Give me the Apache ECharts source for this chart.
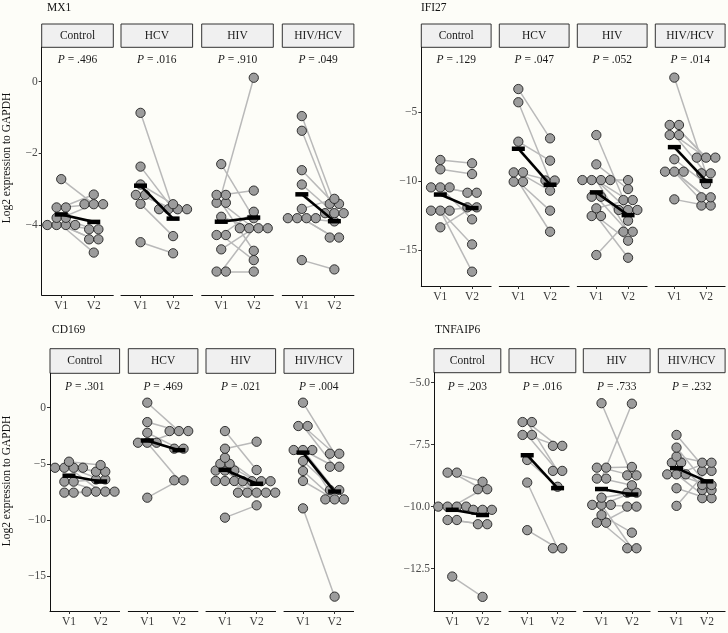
<!DOCTYPE html>
<html><head><meta charset="utf-8">
<script src="https://cdn.jsdelivr.net/npm/echarts@6/dist/echarts.min.js"></script>
<style>html,body{margin:0;padding:0;background:#fdfdf8;} #c{width:728px;height:633px;}</style>
</head><body><div id="c"></div>
<script>
// ---------- data ----------
const groups = ['Control', 'HCV', 'HIV', 'HIV/HCV'];
const visits = ['V1', 'V2'];
const genes = ['MX1', 'IFI27', 'CD169', 'TNFAIP6'];

// MX1
const mx1ControlV1 = [-2.72, -3.51, -3.51, -3.80, -3.80, -4.00, -4.00, -4.00, -4.00];
const mx1ControlV2 = [-3.42, -3.15, -3.42, -3.42, -4.12, -4.40, -4.12, -4.77, -4.40];
const mx1HcvV1 = [-0.87, -2.37, -2.87, -3.16, -3.16, -3.41, -4.48];
const mx1HcvV2 = [-3.56, -3.56, -3.42, -3.56, -3.56, -4.31, -4.79];
const mx1HivV1 = [-2.30, -3.16, -3.16, -3.38, -3.38, -3.77, -4.28, -4.28, -4.68, -5.30, -5.30];
const mx1HivV2 = [-3.81, 0.11, -3.04, -4.09, -4.72, -4.09, -4.98, -3.63, -4.09, -5.30, -4.09];
const mx1CoV1 = [-0.96, -1.37, -2.47, -2.87, -3.55, -3.81, -3.81, -3.81, -3.81, -4.98];
const mx1CoV2 = [-3.41, -3.67, -3.41, -3.67, -3.27, -3.67, -3.90, -4.35, -4.35, -5.24];
// IFI27
const ifiControlV1 = [-8.46, -9.14, -10.45, -10.45, -10.45, -12.14, -12.14, -12.14, -13.35];
const ifiControlV2 = [-8.70, -9.48, -10.84, -12.77, -10.84, -11.90, -14.59, -16.57, -11.90];
const ifiHcvV1 = [-3.31, -4.27, -7.13, -9.36, -9.36, -10.04, -10.04];
const ifiHcvV2 = [-6.89, -9.95, -8.51, -9.95, -10.69, -12.14, -13.67];
const ifiHivV1 = [-6.65, -8.78, -9.92, -9.92, -9.92, -9.92, -11.13, -11.13, -11.97, -12.53, -12.53, -15.36];
const ifiHivV2 = [-12.09, -10.57, -9.92, -11.37, -12.09, -13.67, -12.09, -13.67, -11.37, -14.32, -15.56, -12.87];
const ifiCoV1 = [-2.48, -5.92, -5.92, -6.65, -6.65, -8.41, -9.31, -9.31, -9.31, -11.32];
const ifiCoV2 = [-9.43, -8.29, -8.29, -8.29, -9.43, -10.20, -11.17, -11.77, -11.17, -11.77];
// CD169
const cdControlV1 = [-4.81, -5.35, -5.35, -5.35, -5.35, -6.59, -6.59, -7.57, -7.57];
const cdControlV2 = [-5.11, -5.70, -5.70, -6.39, -7.48, -6.39, -7.48, -7.48, -7.48];
const cdHcvV1 = [0.45, -1.28, -2.23, -3.12, -3.12, -3.12, -8.02];
const cdHcvV2 = [-2.08, -2.08, -3.65, -2.08, -3.65, -6.47, -6.47];
const cdHivV1 = [-2.08, -3.65, -4.46, -5.00, -5.00, -5.60, -5.60, -5.60, -6.53, -6.53, -6.53, -9.80];
const cdHivV2 = [-5.55, -3.03, -6.55, -6.55, -7.57, -6.55, -7.57, -7.57, -6.55, -7.57, -7.57, -8.70];
const cdCoV1 = [0.45, -1.63, -1.63, -3.77, -3.77, -3.77, -4.75, -5.64, -6.53, -8.97];
const cdCoV2 = [-4.10, -4.10, -5.26, -5.26, -7.34, -8.17, -7.34, -8.17, -8.17, -16.84];
// TNFAIP6
const tnControlV1 = [-8.63, -8.63, -10.00, -10.00, -10.00, -10.00, -10.54, -10.54, -12.82];
const tnControlV2 = [-9.00, -9.30, -10.13, -10.13, -10.13, -9.30, -10.71, -10.71, -13.64];
const tnHcvV1 = [-6.59, -6.59, -7.11, -7.11, -8.12, -9.03, -10.95];
const tnHcvV2 = [-7.55, -8.56, -7.55, -8.56, -9.20, -11.68, -11.68];
const tnHivV1 = [-5.83, -8.43, -8.43, -8.87, -8.87, -9.64, -9.93, -9.93, -9.93, -10.34, -10.65, -10.65];
const tnHivV2 = [-8.74, -8.40, -8.74, -5.85, -9.14, -9.44, -9.44, -10.00, -11.68, -11.05, -10.00, -11.68];
const tnCoV1 = [-7.11, -7.62, -7.98, -8.23, -8.23, -8.70, -8.70, -8.70, -9.26, -9.97];
const tnCoV2 = [-8.56, -9.13, -8.23, -9.33, -9.33, -8.23, -9.13, -9.66, -9.66, -8.56];

const pMX1 = ['.496', '.016', '.910', '.049'];
const pIFI27 = ['.129', '.047', '.052', '.014'];
const pCD169 = ['.301', '.469', '.021', '.004'];
const pTNFAIP6 = ['.203', '.016', '.733', '.232'];

const ticksMX1 = [-4, -2, 0];
const ticksIFI27 = [-15, -10, -5];
const ticksCD169 = [-15, -10, -5, 0];
const ticksTNFAIP6 = [-12.5, -10, -7.5, -5];

const yTitle = 'Log2 expression to GAPDH';

// ---------- assembly ----------
const geneData = {
  MX1: [[mx1ControlV1, mx1ControlV2], [mx1HcvV1, mx1HcvV2], [mx1HivV1, mx1HivV2], [mx1CoV1, mx1CoV2]],
  IFI27: [[ifiControlV1, ifiControlV2], [ifiHcvV1, ifiHcvV2], [ifiHivV1, ifiHivV2], [ifiCoV1, ifiCoV2]],
  CD169: [[cdControlV1, cdControlV2], [cdHcvV1, cdHcvV2], [cdHivV1, cdHivV2], [cdCoV1, cdCoV2]],
  TNFAIP6: [[tnControlV1, tnControlV2], [tnHcvV1, tnHcvV2], [tnHivV1, tnHivV2], [tnCoV1, tnCoV2]]
};
const geneP = { MX1: pMX1, IFI27: pIFI27, CD169: pCD169, TNFAIP6: pTNFAIP6 };
const geneTicks = { MX1: ticksMX1, IFI27: ticksIFI27, CD169: ticksCD169, TNFAIP6: ticksTNFAIP6 };

// layout (pixels)
const layout = [
  { gene: 'MX1', lefts: [41.7, 121, 201.7, 282.3], width: 71.6, top: 47.3, bottom: 295, stripTop: 24, ymin: -5.954, ymax: 0.96, titleX: 47, titleY: 8, pY: 60, yLabY: 158, dec: 0 },
  { gene: 'IFI27', lefts: [421.3, 499.3, 577.3, 655.3], width: 69.8, top: 47.3, bottom: 286, stripTop: 24, ymin: -17.61, ymax: -0.28, titleX: 421, titleY: 8, pY: 60, dec: 0 },
  { gene: 'CD169', lefts: [50, 128.3, 206, 284], width: 69.6, top: 373.3, bottom: 611, stripTop: 348.7, ymin: -18.12, ymax: 3.07, titleX: 52, titleY: 330, pY: 386.7, yLabY: 481, dec: 0 },
  { gene: 'TNFAIP6', lefts: [434, 509, 583.3, 658.3], width: 66.8, top: 372.7, bottom: 611, stripTop: 348.7, ymin: -14.21, ymax: -4.60, titleX: 435, titleY: 330, pY: 386.7, dec: 1 }
];

const FONT = 'Liberation Serif';
const DOT = 9.3;

function mean(a) { return a.reduce((s, v) => s + v, 0) / a.length; }

function dotPositions(vals, xCenter, unitPerPx) {
  const spacing = DOT * unitPerPx;
  const sorted = vals.slice().sort((a, b) => a - b);
  const bins = [];
  for (const v of sorted) {
    const last = bins[bins.length - 1];
    if (last && Math.abs(v - last.start) < 0.02) last.items.push(v);
    else bins.push({ start: v, items: [v] });
  }
  const out = [];
  for (const b of bins) {
    const n = b.items.length;
    const c = (Math.min(...b.items) + Math.max(...b.items)) / 2;
    for (let k = 0; k < n; k++) out.push([xCenter + (k - (n - 1) / 2) * spacing, c]);
  }
  return out;
}

const grids = [], xAxes = [], yAxes = [], series = [], graphics = [];
let gi = 0;
layout.forEach(L => {
  const data = geneData[L.gene];
  const ps = geneP[L.gene];
  const ticks = geneTicks[L.gene];
  graphics.push({ type: 'text', x: L.titleX, y: L.titleY, style: { text: L.gene, font: '11.5px ' + FONT, fill: '#111', verticalAlign: 'middle' } });
  if (L.yLabY) {
    graphics.push({ type: 'text', x: 7, y: L.yLabY, rotation: Math.PI / 2, style: { text: yTitle, font: '11.5px ' + FONT, fill: '#111', align: 'center', verticalAlign: 'middle' } });
  }
  groups.forEach((g, j) => {
    const left = L.lefts[j];
    const h = L.bottom - L.top;
    grids.push({ left: left, top: L.top, width: L.width, height: h, outerBoundsMode: 'none', containLabel: false });
    xAxes.push({
      type: 'value', gridIndex: gi, min: 0.4, max: 2.6,
      axisLine: { show: true, onZero: false, lineStyle: { color: '#111', width: 1 } },
      axisTick: { show: true, customValues: [1, 2], length: 3, lineStyle: { color: '#333' } },
      axisLabel: { show: true, customValues: [1, 2], formatter: v => visits[Math.round(v) - 1], fontFamily: FONT, fontSize: 11.5, color: '#3a3a3a', margin: 5 },
      splitLine: { show: false }
    });
    const first = j === 0;
    yAxes.push({
      type: 'value', gridIndex: gi, min: L.ymin, max: L.ymax,
      axisLine: { show: first, onZero: false, lineStyle: { color: '#111', width: 1 } },
      axisTick: { show: first, customValues: ticks, length: 3, lineStyle: { color: '#333' } },
      axisLabel: { show: first, customValues: ticks, formatter: v => (L.dec ? v.toFixed(1) : String(v)).replace('-', '\u2212'), fontFamily: FONT, fontSize: 11.5, color: '#4a4a4a', margin: 4 },
      splitLine: { show: false }
    });
    const v1 = data[j][0], v2 = data[j][1];
    const upp = 2.2 / L.width;
    series.push({
      type: 'lines', coordinateSystem: 'cartesian2d', xAxisIndex: gi, yAxisIndex: gi, silent: true, z: 1,
      lineStyle: { color: '#b9b9b9', width: 1.5, opacity: 1 },
      data: v1.map((a, i) => ({ coords: [[1, a], [2, v2[i]]] }))
    });
    series.push({
      type: 'scatter', xAxisIndex: gi, yAxisIndex: gi, silent: true, z: 2,
      symbol: 'circle', symbolSize: DOT,
      itemStyle: { color: '#9c9c9c', borderColor: '#222', borderWidth: 0.9, opacity: 1 },
      data: dotPositions(v1, 1, upp).concat(dotPositions(v2, 2, upp))
    });
    series.push({
      type: 'line', xAxisIndex: gi, yAxisIndex: gi, silent: true, z: 3,
      symbol: 'rect', symbolSize: [13, 4.5], showSymbol: true,
      lineStyle: { color: '#000', width: 2.6 }, itemStyle: { color: '#000' },
      data: [[1, mean(v1)], [2, mean(v2)]]
    });
    // strip
    graphics.push({ type: 'rect', shape: { x: left, y: L.stripTop, width: L.width, height: L.top - L.stripTop }, style: { fill: '#f0f0f0', stroke: '#333', lineWidth: 1 } });
    graphics.push({ type: 'text', x: left + L.width / 2, y: (L.stripTop + L.top) / 2, style: { text: g, font: '11.5px ' + FONT, fill: '#1a1a1a', align: 'center', verticalAlign: 'middle' } });
    graphics.push({ type: 'text', x: left + L.width / 2, y: L.pY, style: { text: '{i|P} = ' + ps[j], font: '11.5px ' + FONT, fill: '#1a1a1a', align: 'center', verticalAlign: 'middle', rich: { i: { fontStyle: 'italic', fontFamily: FONT, fontSize: 11.5, fill: '#1a1a1a' } } } });
    gi++;
  });
});

const chart = echarts.init(document.getElementById('c'), null, { renderer: 'canvas' });
chart.setOption({
  backgroundColor: '#fdfdf8',
  animation: false,
  grid: grids, xAxis: xAxes, yAxis: yAxes, series: series,
  graphic: { elements: graphics }
});
</script></body></html>
